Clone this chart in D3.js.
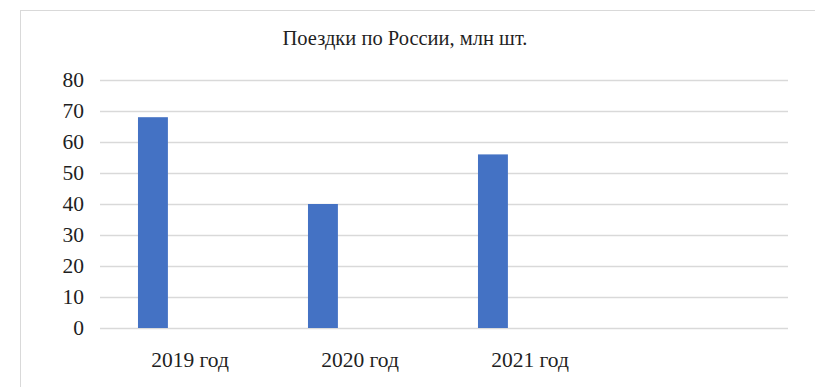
<!DOCTYPE html>
<html>
<head>
<meta charset="utf-8">
<script src="https://cdn.jsdelivr.net/npm/d3@7"></script>
<style>
  body { margin: 0; background: #fff; }
</style>
</head>
<body>
<div id="chart"></div>
<script>
// chart data
var categories = ['2019 год', '2020 год', '2021 год', ''];
var trips = [68, 40, 56, null];
var yTicks = [0, 10, 20, 30, 40, 50, 60, 70, 80];
var title = 'Поездки по России, млн шт.';

(function() {

  var w = 815, h = 387;
  var serif = '"Liberation Serif", Tinos, "Times New Roman", "DejaVu Serif", serif';
  var margin = {top: 80, left: 105},
      width = 785 - margin.left,
      height = 328 - margin.top;

  var svg = d3.select('#chart')
      .append('svg')
      .attr('width', w)
      .attr('height', h);

  // chart frame
  svg.append('rect')
      .attr('x', 20.5)
      .attr('y', 10.5)
      .attr('width', w)
      .attr('height', h)
      .attr('fill', '#fff')
      .attr('stroke', '#d9d9d9');

  // title
  svg.append('text')
      .attr('x', 405)
      .attr('y', 45)
      .style('text-anchor', 'middle')
      .style('font-family', serif)
      .style('font-size', '20.5px')
      .style('fill', '#1f1f1f')
      .text(title);

  var g = svg.append('g')
      .attr('transform', 'translate(' + margin.left + ',' + margin.top + ')');

  var x = d3.scaleBand().domain(categories).range([0, width]);
  var y = d3.scaleLinear().domain([0, 80]).range([height, 0]);

  // gridlines
  g.append('g')
      .selectAll('line')
      .data(yTicks)
      .enter().append('line')
      .attr('x1', -5)
      .attr('x2', width + 3)
      .attr('y1', function(d) { return Math.round(y(d)) + 0.5; })
      .attr('y2', function(d) { return Math.round(y(d)) + 0.5; })
      .attr('stroke', '#d9d9d9')
      .attr('stroke-width', 1.5);

  // y axis labels
  var yAxis = g.append('g')
      .call(d3.axisLeft(y).tickValues(yTicks).tickSize(0).tickPadding(21));
  yAxis.select('.domain').remove();
  yAxis.selectAll('text')
      .style('font-family', serif)
      .style('font-size', '21.5px')
      .style('fill', '#1f1f1f');

  // x axis labels
  var xAxis = g.append('g')
      .attr('transform', 'translate(0,' + height + ')')
      .call(d3.axisBottom(x).tickSize(0).tickPadding(24));
  xAxis.select('.domain').remove();
  xAxis.selectAll('text')
      .style('font-family', serif)
      .style('font-size', '21.5px')
      .style('fill', '#1f1f1f');

  // bars
  var barW = x.bandwidth() * 0.176;
  var barOff = x.bandwidth() * 0.194;
  g.selectAll('.bar')
      .data(trips.map(function(v, i) { return {cat: categories[i], v: v}; })
            .filter(function(d) { return d.v != null; }))
      .enter().append('rect')
      .attr('class', 'bar')
      .attr('x', function(d) { return x(d.cat) + barOff; })
      .attr('width', barW)
      .attr('y', function(d) { return y(d.v); })
      .attr('height', function(d) { return height - y(d.v); })
      .attr('fill', '#4472c4');

})();
</script>
</body>
</html>
